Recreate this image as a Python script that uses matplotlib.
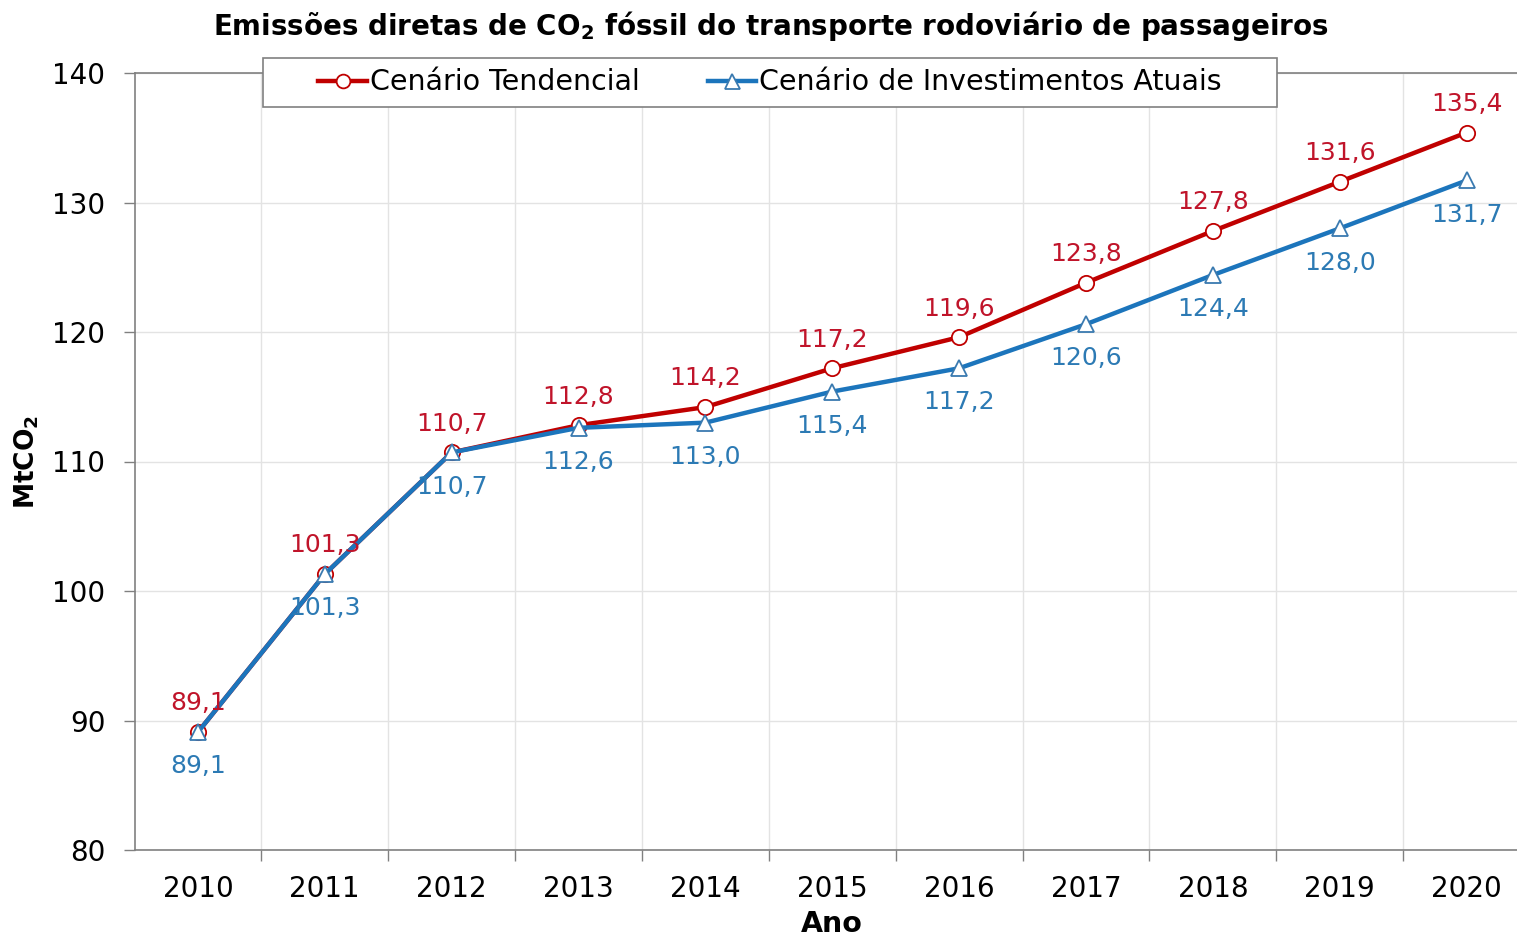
import numpy as np
import matplotlib.pyplot as plt
from matplotlib.ticker import FixedLocator
from matplotlib.patches import Rectangle

# Dados: emissões diretas de CO2 fóssil (MtCO2)
anos = [2010, 2011, 2012, 2013, 2014, 2015, 2016, 2017, 2018, 2019, 2020]
tendencial = [89.1, 101.3, 110.7, 112.8, 114.2, 117.2, 119.6, 123.8, 127.8, 131.6, 135.4]
investimentos = [89.1, 101.3, 110.7, 112.6, 113.0, 115.4, 117.2, 120.6, 124.4, 128.0, 131.7]

cor_vermelho = '#C00000'
cor_azul = '#1C75BC'
cor_txt_verm = '#C0142A'
cor_txt_azul = '#2C7AB4'

plt.rcParams['font.family'] = ['DejaVu Sans']
plt.rcParams['mathtext.fontset'] = 'dejavusans'

W, H = 1517, 941
fig = plt.figure(figsize=(W / 100, H / 100), dpi=100)
ax = fig.add_axes([134.5 / W, 1 - 850 / H, (1530 - 134.5) / W, (850 - 73) / H])

ax.plot(anos, tendencial, color=cor_vermelho, lw=3.2, marker='o', ms=11,
        mfc='white', mec=cor_vermelho, mew=1.3, label='Cenário Tendencial', zorder=3)
ax.plot(anos, investimentos, color=cor_azul, lw=3.2, marker='^', ms=12,
        mfc='white', mec='#3A7AB0', mew=1.3, label='Cenário de Investimentos Atuais', zorder=4)

# rótulos de dados
for x, v in zip(anos, tendencial):
    ax.annotate(f'{v:.1f}'.replace('.', ','), (x, v), xytext=(0, 12), textcoords='offset points',
                ha='center', va='bottom', fontsize=18, color=cor_txt_verm, zorder=5)
for x, v in zip(anos, investimentos):
    ax.annotate(f'{v:.1f}'.replace('.', ','), (x, v), xytext=(0, -16), textcoords='offset points',
                ha='center', va='top', fontsize=18, color=cor_txt_azul, zorder=5)

ax.set_xlim(2009.5, 2020.5)
ax.set_ylim(80, 140)
ax.set_yticks(np.arange(80, 141, 10))
ax.set_xticks(anos)
ax.xaxis.set_minor_locator(FixedLocator(np.arange(2010.5, 2020, 1.0)))
ax.tick_params(axis='x', which='major', length=0, labelsize=20, pad=18)
ax.tick_params(axis='x', which='minor', length=8, width=1, color='#808080', direction='out')
ax.tick_params(axis='y', length=8, width=1, color='#808080', labelsize=20, pad=13)

ax.grid(axis='y', color='#E3E3E3', lw=1)
ax.grid(axis='x', which='minor', color='#E3E3E3', lw=1)
ax.set_axisbelow(True)

for s in ['left', 'bottom', 'top']:
    ax.spines[s].set_color('#808080')
    ax.spines[s].set_linewidth(1.2)
ax.spines['right'].set_visible(False)

ax.set_xlabel('Ano', fontsize=20.5, fontweight='bold', labelpad=5)
ax.set_ylabel(r'MtCO$_{\mathbf{2}}$', fontsize=19, fontweight='bold', labelpad=8)

fig.text(0.508, 0.972, r'Emissões diretas de CO$_{\mathbf{2}}$ fóssil do transporte rodoviário de passageiros',
         ha='center', va='center', fontsize=20, fontweight='bold')

# caixa da legenda
caixa = Rectangle((263 / W, 1 - 107 / H), (1277 - 263) / W, (107 - 58) / H, transform=fig.transFigure,
                  facecolor='white', edgecolor='#808080', lw=1.2, zorder=5)
fig.patches.append(caixa)
leg = fig.legend(*ax.get_legend_handles_labels(), loc='center', bbox_to_anchor=(770 / W, 1 - 82.5 / H),
                 ncol=2, fontsize=20.5, frameon=False, handlelength=1.7, handletextpad=0.1,
                 columnspacing=2.4, markerscale=0.9)
leg.set_zorder(6)

fig.savefig('out.png', dpi=100)
